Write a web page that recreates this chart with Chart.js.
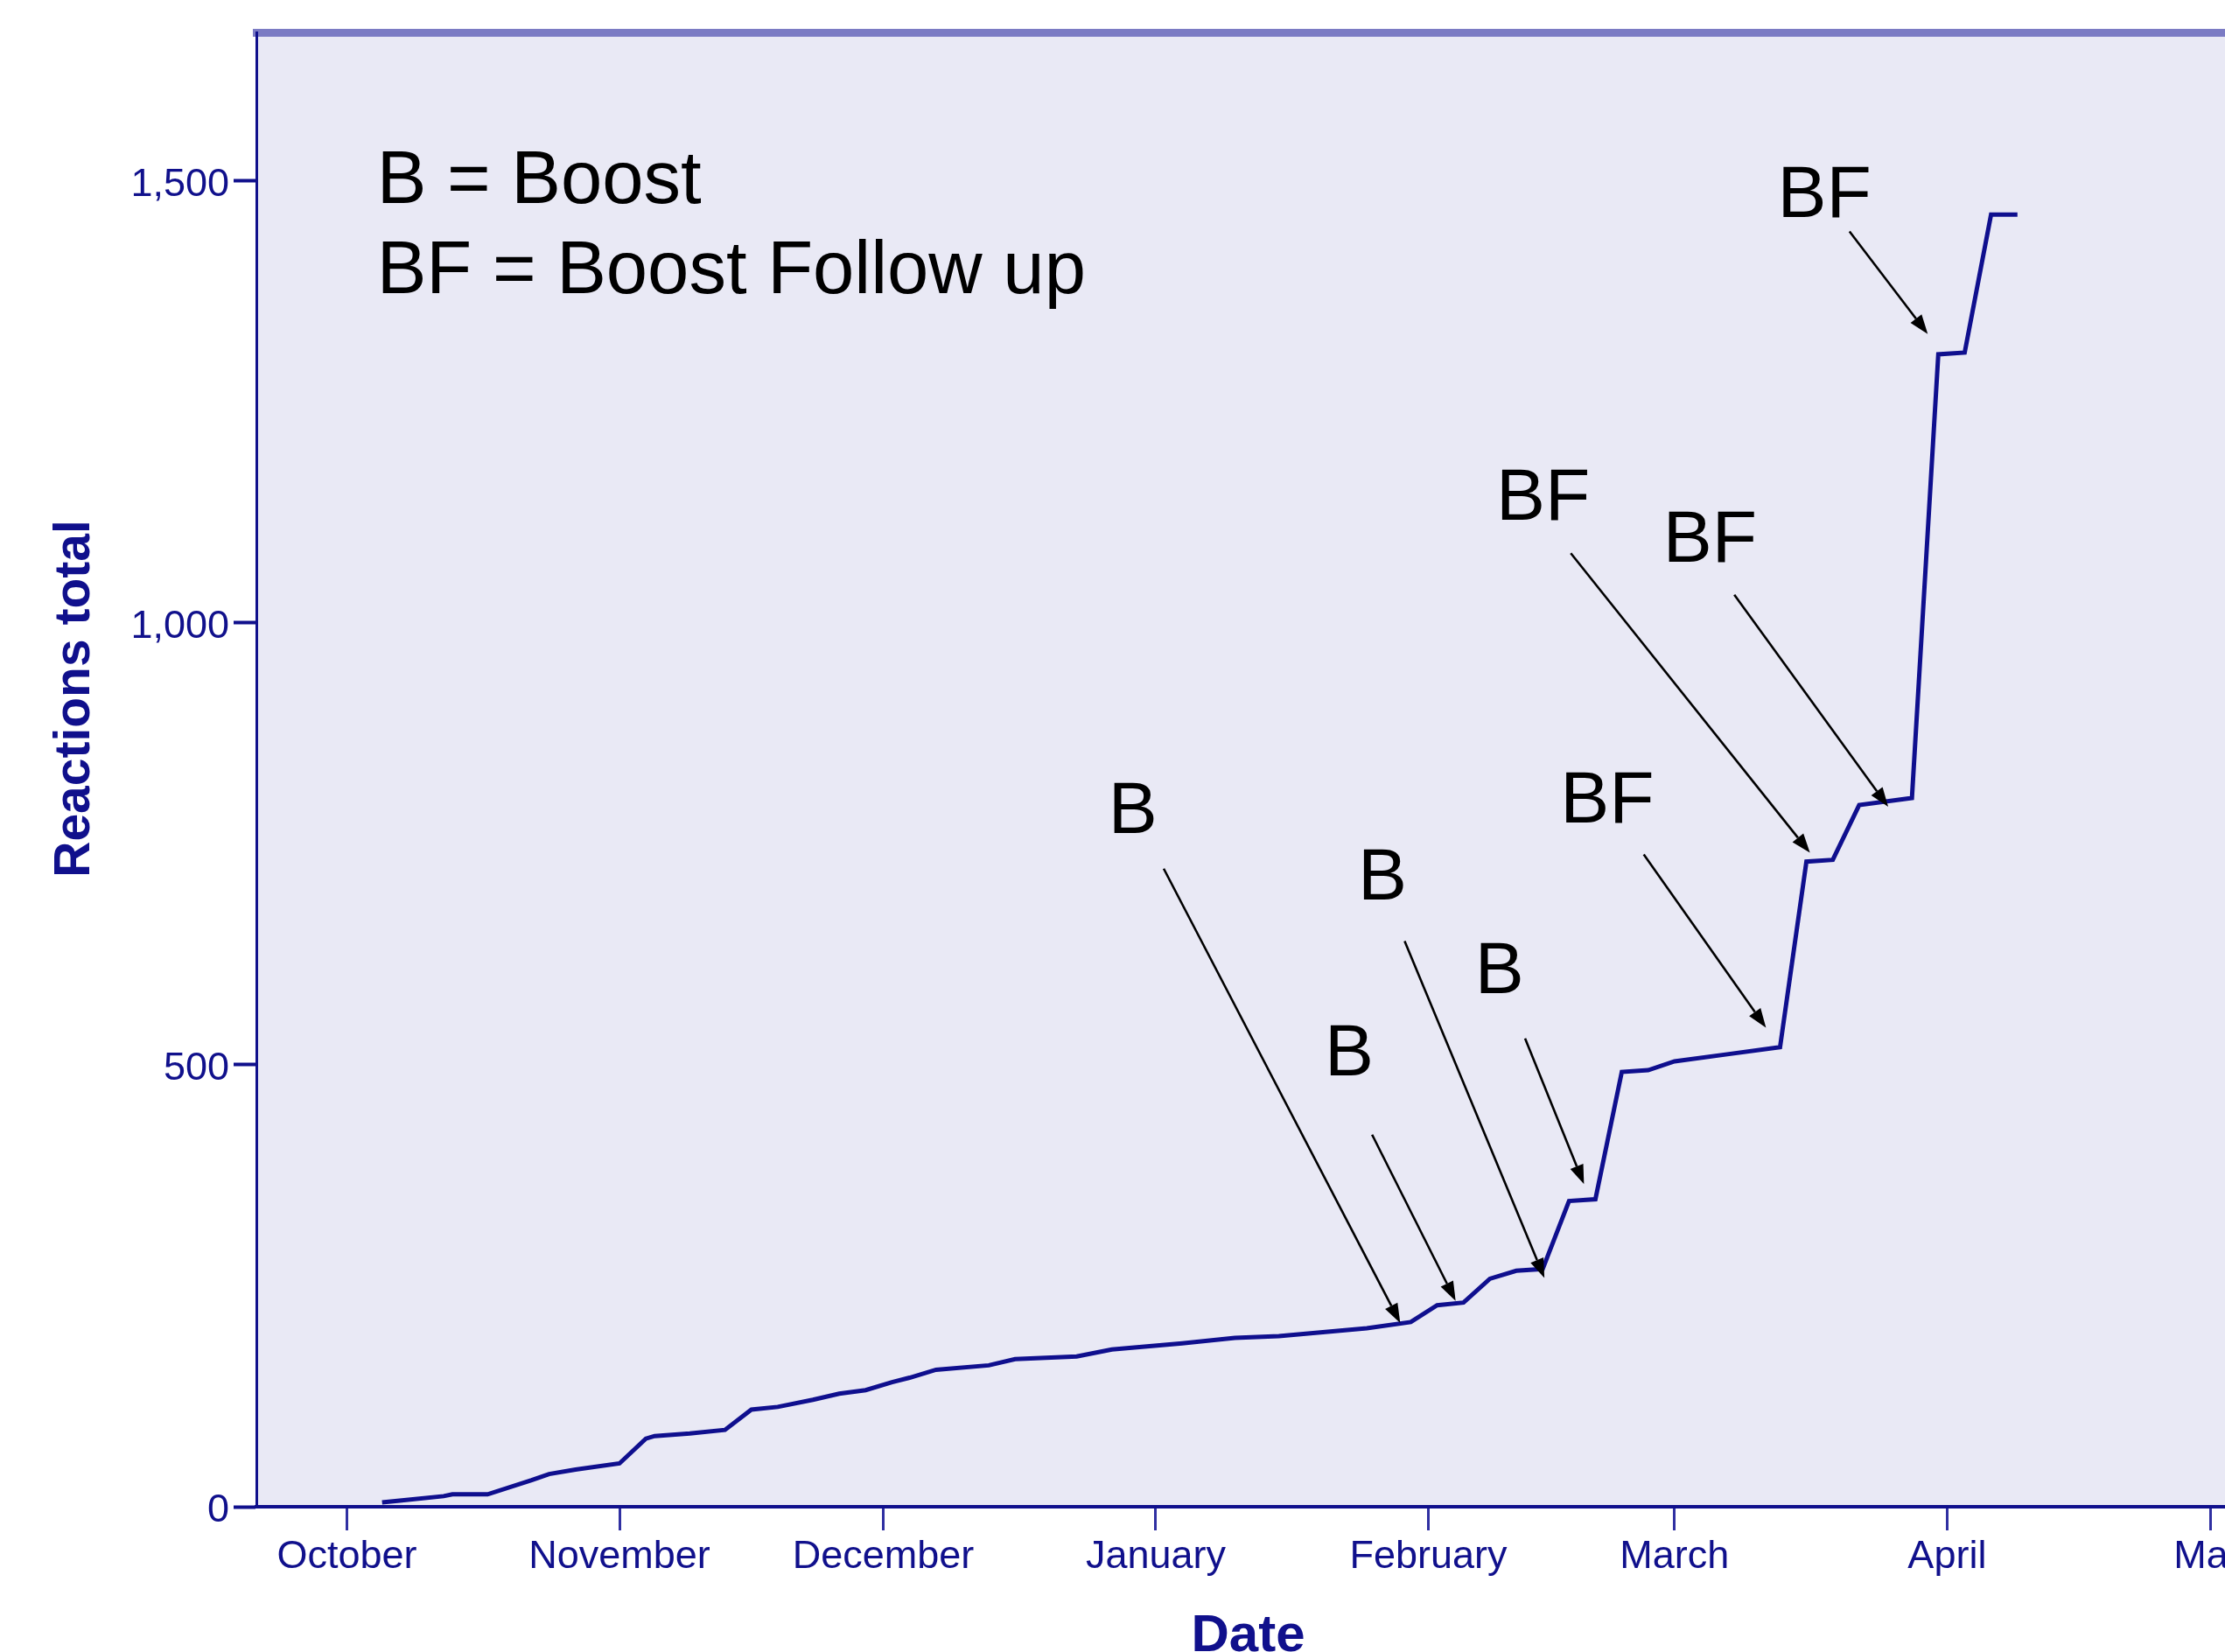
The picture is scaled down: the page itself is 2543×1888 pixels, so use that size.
<!DOCTYPE html>
<html>
<head>
<meta charset="utf-8">
<script src="https://cdn.jsdelivr.net/npm/chart.js@4.4.1/dist/chart.umd.min.js"></script>
<style>
  html, body { margin: 0; padding: 0; background: #ffffff; overflow: hidden; width: 2543px; height: 1888px; }
  #wrap { position: absolute; left: 0; top: 0; width: 2600px; height: 1888px; }
  canvas { display: block; }
</style>
</head>
<body>
<div id="wrap"><canvas id="chart" width="2600" height="1888"></canvas></div>
<script>
// ---- data (days counted from 1 October) ----
const dayOfSeason = [4, 6, 11, 12, 16, 21, 23, 26, 31, 34, 35, 39, 43, 46, 49, 53, 56, 59, 62, 64, 67, 73, 76, 83, 87, 95, 101, 106, 116, 121, 124, 127, 130, 133, 136, 139, 142, 145, 148, 151, 157, 163, 166, 169, 172, 178, 181, 184, 187, 190];
const reactionsTotal = [5, 7, 12, 14, 14, 30, 37, 42, 49, 77, 80, 83, 87, 110, 113, 121, 128, 132, 141, 146, 155, 160, 167, 170, 178, 185, 191, 193, 202, 209, 228, 231, 258, 267, 269, 346, 348, 492, 494, 504, 512, 520, 730, 732, 794, 802, 1304, 1306, 1462, 1462];

const monthTickDays = [0, 31, 61, 92, 123, 151, 182, 212];
const monthLabels = ['October', 'November', 'December', 'January', 'February', 'March', 'April', 'May'];
const yTickValues = [0, 500, 1000, 1500];

const xTitle = 'Date';
const yTitle = 'Reactions total';
const legendLines = ['B = Boost', 'BF = Boost Follow up'];
const markerLabels = ['B', 'B', 'B', 'B', 'BF', 'BF', 'BF', 'BF'];

// ---- annotation layout (data units: [day, value]) ----
const legendLayout = [[3.4, 1475], [3.4, 1373]];
const markerLayout = [
  { text: [86.6, 762],  from: [92.9, 722],  to: [119.8, 208] },
  { text: [111.2, 488], from: [116.6, 421], to: [126.1, 233] },
  { text: [115.0, 687], from: [120.3, 640], to: [136.2, 259] },
  { text: [128.3, 581], from: [134.0, 530], to: [140.7, 365] },
  { text: [138.0, 774], from: [147.5, 738], to: [161.4, 542] },
  { text: [130.7, 1117], from: [139.2, 1079], to: [166.4, 740] },
  { text: [149.7, 1069], from: [157.8, 1032], to: [175.3, 792] },
  { text: [162.7, 1459], from: [170.9, 1443], to: [179.8, 1327] }
];

const FONT = "'Liberation Sans', Arial, Helvetica, sans-serif";
const NAVY = '#10108c';
const X_MIN = -10.3, X_MAX = 215.3, Y_MAX = 1667.8;

const plotBackground = {
  id: 'plotBackground',
  beforeDraw(chart) {
    const { ctx, chartArea: a } = chart;
    ctx.save();
    ctx.fillStyle = '#e9e9f5';
    ctx.fillRect(a.left, a.top, a.right - a.left, a.bottom - a.top);
    ctx.restore();
  }
};

const axisTitles = {
  id: 'axisTitles',
  afterDraw(chart) {
    const { ctx, chartArea: a } = chart;
    ctx.save();
    ctx.fillStyle = NAVY;
    ctx.font = 'bold 60px ' + FONT;
    ctx.textAlign = 'center';
    ctx.textBaseline = 'alphabetic';
    ctx.fillText(xTitle, (a.left + a.right) / 2, a.bottom + 165);
    ctx.translate(a.left - 191, a.top + 761);
    ctx.rotate(-Math.PI / 2);
    ctx.font = 'bold 57px ' + FONT;
    ctx.fillText(yTitle, 0, 0);
    ctx.restore();
  }
};

function arrow(ctx, x1, y1, x2, y2) {
  const ang = Math.atan2(y2 - y1, x2 - x1);
  const len = 22, half = 8;
  const bx = x2 - len * Math.cos(ang), by = y2 - len * Math.sin(ang);
  ctx.beginPath();
  ctx.moveTo(x1, y1);
  ctx.lineTo(bx, by);
  ctx.stroke();
  ctx.beginPath();
  ctx.moveTo(x2, y2);
  ctx.lineTo(bx + half * Math.sin(ang), by - half * Math.cos(ang));
  ctx.lineTo(bx - half * Math.sin(ang), by + half * Math.cos(ang));
  ctx.closePath();
  ctx.fill();
}

const annotations = {
  id: 'annotations',
  afterDatasetsDraw(chart) {
    const { ctx } = chart;
    const xs = chart.scales.x, ys = chart.scales.y;
    const px = p => [xs.getPixelForValue(p[0]), ys.getPixelForValue(p[1])];
    ctx.save();
    ctx.fillStyle = '#000000';
    ctx.strokeStyle = '#000000';
    ctx.lineWidth = 2.6;
    ctx.textAlign = 'left';
    ctx.textBaseline = 'alphabetic';
    ctx.font = '85px ' + FONT;
    legendLines.forEach((t, i) => {
      const [x, y] = px(legendLayout[i]);
      ctx.fillText(t, x, y);
    });
    ctx.font = '84px ' + FONT;
    markerLabels.forEach((t, i) => {
      const m = markerLayout[i];
      const [tx, ty] = px(m.text);
      ctx.fillText(t, tx, ty);
      const [x1, y1] = px(m.from);
      const [x2, y2] = px(m.to);
      arrow(ctx, x1, y1, x2, y2);
    });
    ctx.restore();
  }
};

new Chart(document.getElementById('chart'), {
  type: 'line',
  data: {
    datasets: [{
      data: dayOfSeason.map((d, i) => ({ x: d, y: reactionsTotal[i] })),
      borderColor: '#0f0f8e',
      borderWidth: 5,
      pointRadius: 0,
      tension: 0,
      fill: false,
      borderJoinStyle: 'miter'
    }]
  },
  options: {
    responsive: false,
    animation: false,
    devicePixelRatio: 1,
    layout: { padding: { top: 37.5, right: 40, bottom: 0, left: 0 } },
    plugins: { legend: { display: false }, tooltip: { enabled: false }, title: { display: false } },
    scales: {
      x: {
        type: 'linear', position: 'bottom', min: X_MIN, max: X_MAX,
        afterBuildTicks: s => { s.ticks = monthTickDays.map(v => ({ value: v })); },
        afterFit: s => { s.height = 166; },
        ticks: {
          autoSkip: false, maxRotation: 0, minRotation: 0, padding: 4, color: NAVY,
          font: { family: FONT, size: 45 },
          callback: (v) => monthLabels[monthTickDays.indexOf(v)]
        },
        grid: { drawOnChartArea: false, drawTicks: true, tickLength: 27, tickColor: '#3030a2', tickWidth: 3 },
        border: { display: true, color: NAVY, width: 4 }
      },
      xTop: {
        type: 'linear', position: 'top', min: X_MIN, max: X_MAX,
        afterFit: s => { s.height = 0; },
        ticks: { display: false },
        grid: { display: true, drawOnChartArea: false, drawTicks: false },
        border: { display: true, color: '#7b7bc4', width: 9 }
      },
      y: {
        type: 'linear', position: 'left', min: 0, max: Y_MAX,
        afterBuildTicks: s => { s.ticks = yTickValues.map(v => ({ value: v })); },
        afterFit: s => { s.width = 293; },
        ticks: {
          padding: 5, labelOffset: 5, color: NAVY, font: { family: FONT, size: 45 },
          callback: v => v.toLocaleString('en-US')
        },
        grid: { drawOnChartArea: false, drawTicks: true, tickLength: 26, tickColor: NAVY, tickWidth: 4 },
        border: { display: true, color: NAVY, width: 3 }
      }
    }
  },
  plugins: [plotBackground, annotations, axisTitles]
});
</script>
</body>
</html>
